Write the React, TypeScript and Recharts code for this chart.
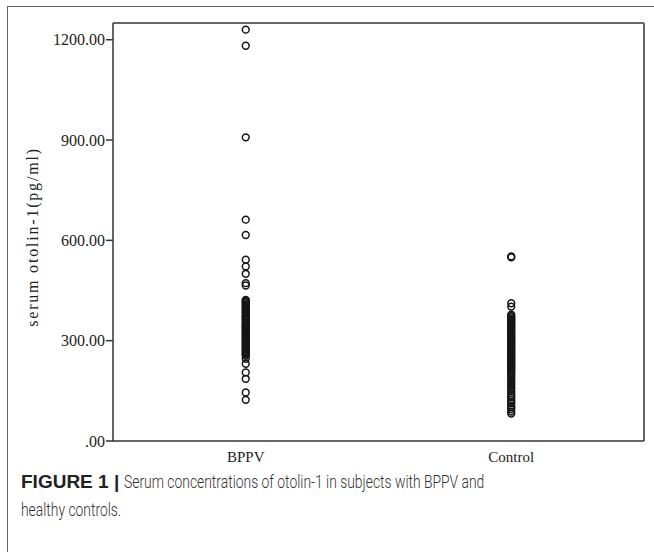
import React from "react";
import { ScatterChart, Scatter, XAxis, YAxis, ReferenceLine } from "recharts";

// groups on the x axis
const categories = ["BPPV", "Control"];

// serum otolin-1 (pg/ml)
const bppvValues = [
  1230, 1182, 908, 662, 616, 542, 522, 500, 472, 465,
  422, 419, 415, 412, 408, 404, 401, 397, 393, 389, 386, 382, 377, 373, 370,
  366, 363, 358, 355, 351, 347, 344, 340, 337, 333, 329, 326, 322, 318, 315,
  311, 307, 304, 300, 296, 293, 289, 285, 281, 278, 274, 270, 267, 263, 259,
  255, 246, 231, 205, 186, 145, 123,
];

const controlValues = [
  552, 549, 412, 402,
  378, 373, 370, 365, 362, 357, 354, 349, 346, 342, 337, 334, 330, 325, 322,
  318, 313, 310, 306, 301, 298, 294, 291, 286, 283, 279, 274, 271, 267, 262,
  259, 255, 250, 247, 243, 238, 235, 231, 226, 223, 219, 214, 211, 206, 202,
  196, 191, 185, 180, 173, 168, 161, 156, 149, 143, 136, 131, 124, 118, 113,
  106, 101, 95, 88, 82,
];

const yTicks = [0, 300, 600, 900, 1200];
const yMax = 1250;

const seriesValues = [bppvValues, controlValues];
const seriesData = seriesValues.map((vals, i) =>
  vals.map((v) => ({ x: i + 0.5, y: v }))
);

const serif = "'Liberation Serif', 'DejaVu Serif', serif";

const OpenCircle = (props: any) => {
  const { cx, cy } = props;
  if (cx == null || cy == null) return null;
  return <circle cx={cx} cy={cy} r={3.4} fill="none" stroke="#151515" strokeWidth={1.5} />;
};

const YLabel = (props: any) => {
  const vb = props.viewBox || { y: 23, height: 418 };
  const cx = 34;
  const cy = vb.y + vb.height / 2 + 5;
  return (
    <text
      x={cx}
      y={cy}
      transform={`rotate(-90 ${cx} ${cy})`}
      textAnchor="middle"
      dominantBaseline="middle"
      fontFamily={serif}
      fontSize={16}
      letterSpacing={1.8}
      fill="#222"
    >
      serum otolin-1(pg/ml)
    </text>
  );
};

const narrow: React.CSSProperties = {
  display: "inline-block",
  transform: "scaleX(0.73)",
  transformOrigin: "left center",
  whiteSpace: "nowrap",
};

const App: React.FC = () => {
  return (
    <div style={{ position: "absolute", left: 0, top: 0, width: 654, height: 552, background: "#fff" }}>
      {/* outer figure frame */}
      <div
        style={{
          position: "absolute",
          left: 7,
          top: 6,
          width: 647,
          height: 546,
          borderTop: "1.5px solid #666",
          borderLeft: "1.5px solid #666",
        }}
      />
      <div style={{ position: "absolute", left: 0, top: 0 }}>
        <ScatterChart width={654} height={470} margin={{ top: 23, right: 10, left: 0, bottom: 0 }}>
          <XAxis
            type="number"
            dataKey="x"
            domain={[0, categories.length]}
            ticks={categories.map((_, i) => i + 0.5)}
            tickFormatter={(v: number) => categories[Math.floor(v)]}
            height={29}
            tickLine={false}
            axisLine={{ stroke: "#333", strokeWidth: 1.5 }}
            tick={{ fill: "#222", fontFamily: serif, fontSize: 15 }}
            tickMargin={4}
          />
          <YAxis
            type="number"
            dataKey="y"
            domain={[0, yMax]}
            ticks={yTicks}
            width={113}
            tickSize={7}
            tickFormatter={(v: number) => (v === 0 ? ".00" : v.toFixed(2))}
            axisLine={{ stroke: "#333", strokeWidth: 1.5 }}
            tickLine={{ stroke: "#333", strokeWidth: 1.5 }}
            tick={{ fill: "#222", fontFamily: serif, fontSize: 16 }}
            tickMargin={1}
            label={<YLabel />}
          />
          <ReferenceLine y={yMax} stroke="#666" strokeWidth={2} />
          <ReferenceLine x={categories.length} stroke="#666" strokeWidth={2} />
          {seriesData.map((d, i) => (
            <Scatter key={categories[i]} data={d} shape={OpenCircle} isAnimationActive={false} />
          ))}
        </ScatterChart>
      </div>
      <div
        style={{
          position: "absolute",
          left: 21,
          top: 468,
          width: 620,
          fontFamily: "Roboto, 'Liberation Sans', sans-serif",
          fontWeight: 300,
          fontSize: 19,
          lineHeight: "28px",
          color: "#333",
        }}
      >
        <div style={{ whiteSpace: "nowrap" }}>
          <span style={{ fontFamily: "'Liberation Sans', Arial, sans-serif", fontWeight: 700, color: "#222" }}>
            FIGURE 1 |
          </span>
          <span style={{ ...narrow, marginLeft: 5 }}>Serum concentrations of otolin-1 in subjects with BPPV and</span>
        </div>
        <div>
          <span style={narrow}>healthy controls.</span>
        </div>
      </div>
    </div>
  );
};

export default App;
